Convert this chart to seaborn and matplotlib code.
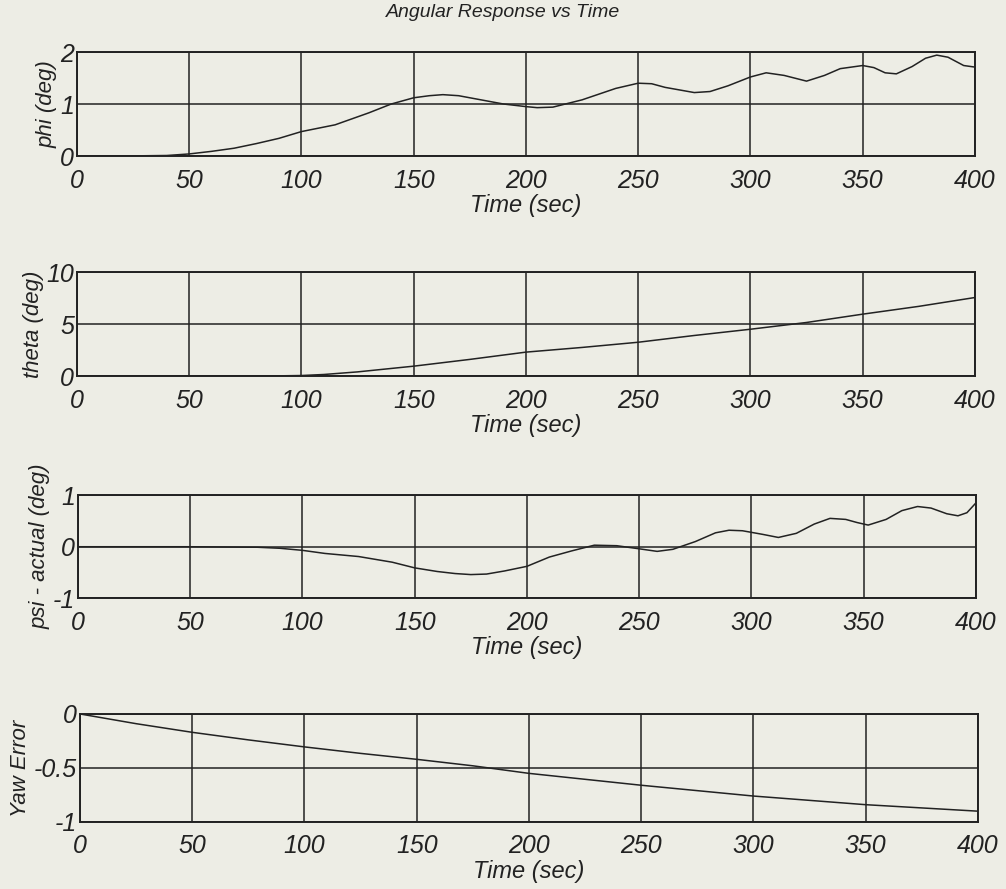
import numpy as np
import pandas as pd
import matplotlib
matplotlib.use("Agg")
import matplotlib.pyplot as plt
import seaborn as sns

phi_t = [0, 20, 40, 50, 60, 70, 80, 90, 100, 115, 130, 140, 150, 157, 163, 170, 180, 190, 200, 205,
         212, 225, 240, 250, 256, 262, 275, 282, 290, 300, 307, 315, 325, 333, 340, 350, 355, 360,
         365, 372, 378, 383, 388, 395, 400]
phi_v = [0, 0, 0.01, 0.04, 0.09, 0.15, 0.24, 0.34, 0.47, 0.60, 0.83, 1.0, 1.12, 1.16, 1.18, 1.16,
         1.08, 1.0, 0.95, 0.93, 0.94, 1.08, 1.3, 1.40, 1.39, 1.32, 1.22, 1.24, 1.35, 1.52, 1.6, 1.55,
         1.44, 1.55, 1.68, 1.74, 1.70, 1.6, 1.58, 1.72, 1.88, 1.94, 1.90, 1.74, 1.71]

theta_t = [0, 50, 90, 100, 110, 125, 150, 175, 200, 225, 250, 275, 300, 325, 350, 375, 400]
theta_v = [0, 0, 0.02, 0.05, 0.15, 0.4, 0.95, 1.6, 2.3, 2.75, 3.25, 3.9, 4.5, 5.15, 5.95, 6.7, 7.55]

psi_t = [0, 50, 80, 90, 100, 110, 125, 140, 150, 160, 168, 175, 182, 190, 200, 210, 220, 230, 240,
         250, 258, 265, 275, 284, 290, 296, 305, 312, 320, 328, 335, 342, 347, 352, 360, 367, 374,
         380, 387, 392, 396, 400]
psi_v = [0, 0, -0.01, -0.03, -0.07, -0.13, -0.19, -0.3, -0.41, -0.48, -0.52, -0.54, -0.53, -0.47,
         -0.38, -0.2, -0.08, 0.03, 0.02, -0.04, -0.09, -0.05, 0.10, 0.27, 0.32, 0.31, 0.24, 0.18,
         0.26, 0.44, 0.55, 0.53, 0.47, 0.42, 0.53, 0.70, 0.78, 0.75, 0.64, 0.60, 0.66, 0.85]

yaw_t = [0, 25, 50, 75, 100, 125, 150, 175, 200, 250, 300, 350, 400]
yaw_v = [0, -0.09, -0.17, -0.24, -0.305, -0.365, -0.42, -0.48, -0.55, -0.66, -0.76, -0.84, -0.9]

x_ticks = [0, 50, 100, 150, 200, 250, 300, 350, 400]

panels = [
    (phi_t, phi_v, "phi (deg)", [0, 1, 2], ["0", "1", "2"], (0, 2)),
    (theta_t, theta_v, "theta (deg)", [0, 5, 10], ["0", "5", "10"], (0, 10)),
    (psi_t, psi_v, "psi - actual (deg)", [-1, 0, 1], ["-1", "0", "1"], (-1, 1)),
    (yaw_t, yaw_v, "Yaw Error", [-1, -0.5, 0], ["-1", "-0.5", "0"], (-1, 0)),
]

# Положение осей (доли фигуры)
boxes = [
    [0.0765, 0.8245, 0.8926, 0.117],
    [0.0765, 0.577, 0.8926, 0.117],
    [0.0775, 0.327, 0.8926, 0.116],
    [0.0795, 0.0754, 0.8926, 0.1215],
]

bg = "#ededE5"
sns.set_theme(style="whitegrid")
plt.rcParams["font.family"] = ["Liberation Sans", "DejaVu Sans"]
plt.rcParams["font.style"] = "italic"

fig = plt.figure(figsize=(10.06, 8.89), dpi=100, facecolor=bg)

for (t, v, ylab, yt, ytl, ylim), box in zip(panels, boxes):
    ax = fig.add_axes(box)
    ax.set_facecolor(bg)
    df = pd.DataFrame({"t": t, "v": v})
    sns.lineplot(data=df, x="t", y="v", ax=ax, color="#222222", linewidth=1.1)
    ax.set_xlim(0, 400)
    ax.set_ylim(*ylim)
    ax.set_xticks(x_ticks)
    ax.set_xticklabels([str(x) for x in x_ticks], fontsize=18, style="italic")
    ax.set_yticks(yt)
    ax.set_yticklabels(ytl, fontsize=18, style="italic")
    ax.tick_params(axis="x", length=0, pad=9, colors="#222222")
    ax.tick_params(axis="y", length=0, pad=2, colors="#222222")
    ax.grid(True, color="#222222", linewidth=1.1, linestyle="-")
    for s in ax.spines.values():
        s.set_color("#222222")
        s.set_linewidth(1.4)
    ax.set_xlabel("Time (sec)", fontsize=17, style="italic", color="#222222", labelpad=1)
    ax.set_ylabel(ylab, fontsize=16, style="italic", color="#222222", labelpad=2)

fig.text(0.5, 0.9855, "Angular Response vs Time", ha="center", va="center",
         fontsize=14, style="italic", color="#222222")

plt.savefig("out.png", dpi=100, facecolor=bg)
